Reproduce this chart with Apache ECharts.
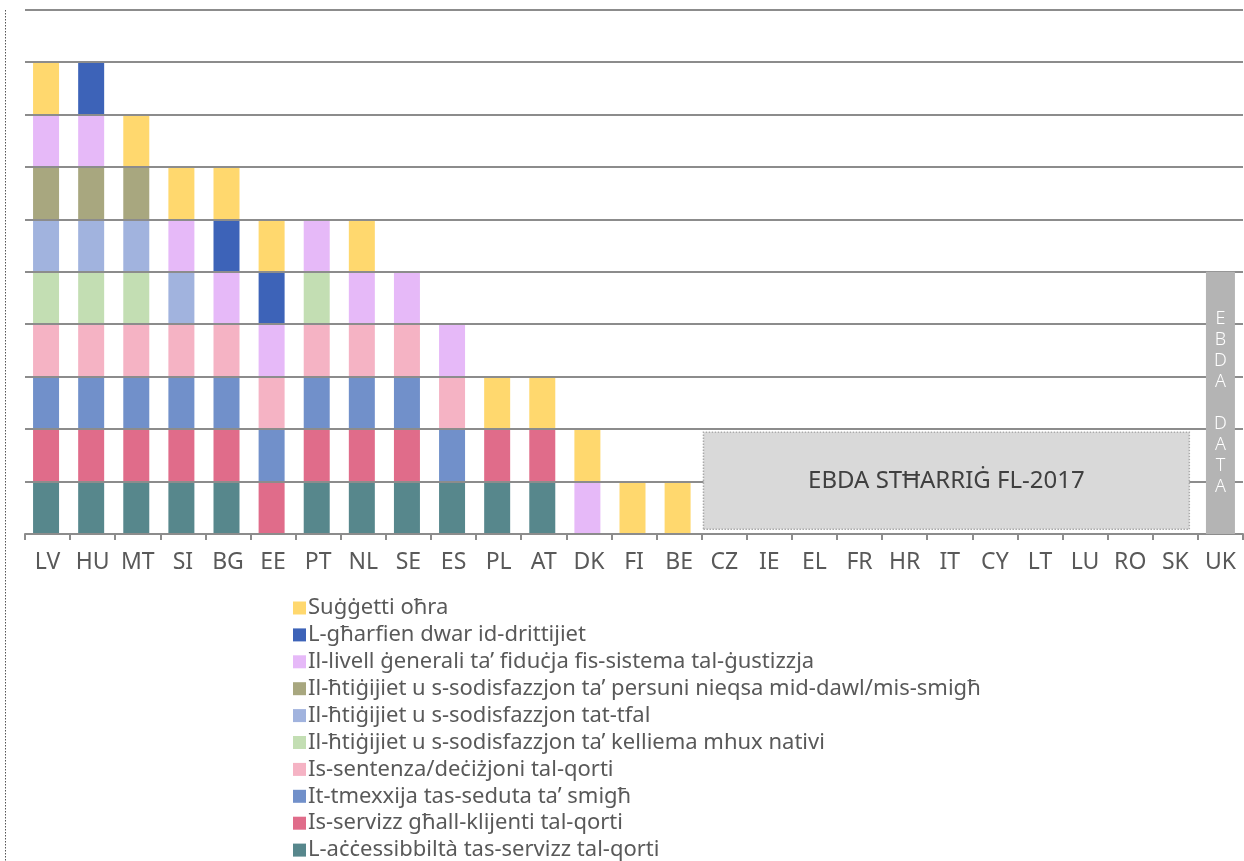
<!DOCTYPE html>
<html>
<head>
<meta charset="utf-8">
<script src="https://cdn.jsdelivr.net/npm/echarts@6/dist/echarts.min.js"></script>
<style>
  html, body { margin: 0; padding: 0; background: #fff; }
  #chart { width: 1244px; height: 861px; }
</style>
</head>
<body>
<div id="chart"></div>
<script>
// Member states, in the order shown on the axis
var countries = ['LV','HU','MT','SI','BG','EE','PT','NL','SE','ES','PL','AT','DK','FI','BE',
                 'CZ','IE','EL','FR','HR','IT','CY','LT','LU','RO','SK','UK'];

// Topics covered by court-user surveys (1 = topic covered), bottom of stack first
var accessibility = [1,1,1,1,1,0,1,1,1,1,1,1,0,0,0, 0,0,0,0,0,0,0,0,0,0,0,0];
var clientService = [1,1,1,1,1,1,1,1,1,0,1,1,0,0,0, 0,0,0,0,0,0,0,0,0,0,0,0];
var hearing       = [1,1,1,1,1,1,1,1,1,1,0,0,0,0,0, 0,0,0,0,0,0,0,0,0,0,0,0];
var judgment      = [1,1,1,1,1,1,1,1,1,1,0,0,0,0,0, 0,0,0,0,0,0,0,0,0,0,0,0];
var nonNative     = [1,1,1,0,0,0,1,0,0,0,0,0,0,0,0, 0,0,0,0,0,0,0,0,0,0,0,0];
var children      = [1,1,1,1,0,0,0,0,0,0,0,0,0,0,0, 0,0,0,0,0,0,0,0,0,0,0,0];
var disabled      = [1,1,1,0,0,0,0,0,0,0,0,0,0,0,0, 0,0,0,0,0,0,0,0,0,0,0,0];
var trust         = [1,1,0,1,1,1,1,1,1,1,0,0,1,0,0, 0,0,0,0,0,0,0,0,0,0,0,0];
var rights        = [0,1,0,0,1,1,0,0,0,0,0,0,0,0,0, 0,0,0,0,0,0,0,0,0,0,0,0];
var otherTopics   = [1,0,1,1,1,1,0,1,0,0,1,1,1,1,1, 0,0,0,0,0,0,0,0,0,0,0,0];

// UK: no data bar
var ukNoData = [0,0,0,0,0,0,0,0,0,0,0,0,0,0,0, 0,0,0,0,0,0,0,0,0,0,0,5];

var seriesNames = [
  'L-aċċessibbiltà tas-servizz tal-qorti',
  'Is-servizz għall-klijenti tal-qorti',
  'It-tmexxija tas-seduta ta’ smigħ',
  'Is-sentenza/deċiżjoni tal-qorti',
  'Il-ħtiġijiet u s-sodisfazzjon ta’ kelliema mhux nativi',
  'Il-ħtiġijiet u s-sodisfazzjon tat-tfal',
  'Il-ħtiġijiet u s-sodisfazzjon ta’ persuni nieqsa mid-dawl/mis-smigħ',
  'Il-livell ġenerali ta’ fiduċja fis-sistema tal-ġustizzja',
  'L-għarfien dwar id-drittijiet',
  'Suġġetti oħra'
];
var seriesData = [accessibility, clientService, hearing, judgment, nonNative,
                  children, disabled, trust, rights, otherTopics];
var seriesColors = ['#57878c','#e06c8a','#7190ca','#f5b3c4','#c3deb3',
                    '#a1b3de','#a8a77f','#e6b9f8','#3d63b8','#ffd86e'];

var FONT = 'Noto Sans';
var chart = echarts.init(document.getElementById('chart'), null, { renderer: 'canvas' });

var series = seriesData.map(function (arr, i) {
  return {
    name: seriesNames[i],
    type: 'bar',
    stack: 'topics',
    barWidth: 26,
    z: 2,
    itemStyle: { color: seriesColors[i] },
    data: arr.map(function (v) { return v === 0 ? '-' : v; })
  };
});

// grey "no data" column for UK
series.push({
  name: 'EBDA DATA',
  type: 'bar',
  stack: 'nodata',
  barWidth: 29,
  barGap: '-100%',
  z: 8,
  itemStyle: { color: '#b4b4b4' },
  label: {
    show: true,
    position: 'inside',
    formatter: 'E\nB\nD\nA\n\nD\nA\nT\nA',
    color: '#ffffff',
    fontFamily: FONT,
    fontSize: 18,
    fontWeight: 300,
    lineHeight: 21
  },
  data: ukNoData.map(function (v) { return v === 0 ? '-' : v; })
});

// annotation box for countries without a survey in 2017
series.push({
  name: 'survey-note',
  type: 'line',
  xAxisIndex: 1,
  data: [],
  z: 8,
  markArea: {
    silent: true,
    z: 8,
    itemStyle: {
      color: '#d9d9d9',
      borderColor: '#aaaaaa',
      borderWidth: 1.5,
      borderType: 'dotted'
    },
    label: {
      show: true,
      position: 'inside',
      color: '#404040',
      fontFamily: FONT,
      fontSize: 24
    },
    data: [[
      { name: 'EBDA STĦARRIĠ FL-2017', coord: [15.04, 0.09] },
      { coord: [25.81, 1.94] }
    ]]
  }
});

chart.setOption({
  animation: false,
  textStyle: { fontFamily: FONT },
  grid: { left: 25, right: 1, top: 9.5, bottom: 327, containLabel: false },
  legend: {
    orient: 'vertical',
    left: 293,
    top: 597,
    height: 270,
    padding: 0,
    itemWidth: 13,
    itemHeight: 13,
    itemGap: 4.9,
    icon: 'rect',
    data: seriesNames.slice().reverse(),
    textStyle: { color: '#595959', fontSize: 22, fontFamily: FONT, padding: [0,0,0,-3] }
  },
  xAxis: [{
    type: 'category',
    data: countries,
    axisLine: { lineStyle: { color: '#8c8c8c', width: 2 } },
    axisTick: { show: true, length: 6, lineStyle: { color: '#8c8c8c', width: 2 } },
    axisLabel: { color: '#595959', fontSize: 23, margin: 17, interval: 0, fontFamily: FONT },
    z: 3
  }, {
    type: 'value',
    min: 0,
    max: 27,
    show: false
  }],
  yAxis: {
    type: 'value',
    min: 0,
    max: 10,
    interval: 1,
    axisLabel: { show: false },
    axisLine: { show: false },
    axisTick: { show: false },
    splitLine: { lineStyle: { color: '#8c8c8c', width: 2 } },
    z: 3
  },
  graphic: [{
    type: 'line',
    shape: { x1: 5.5, y1: 10, x2: 5.5, y2: 861 },
    style: { stroke: '#555', lineWidth: 1, lineDash: [1.5, 1.5] },
    silent: true
  }],
  series: series
});
</script>
</body>
</html>
